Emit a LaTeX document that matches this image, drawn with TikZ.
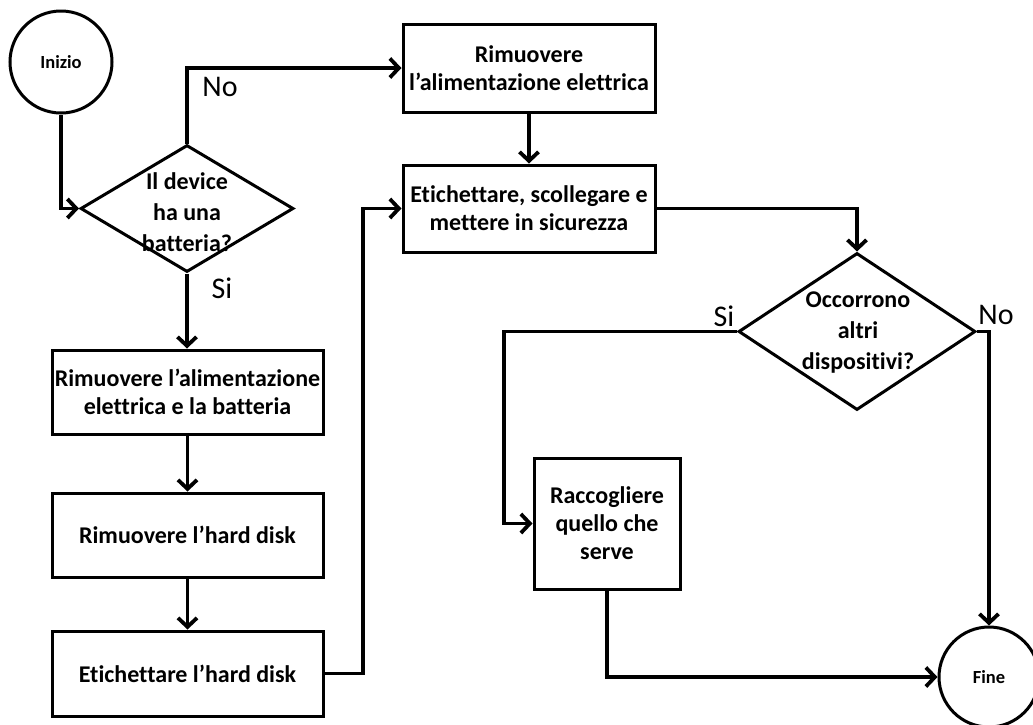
\documentclass[tikz,border=0pt]{standalone}
\usepackage{fontspec}
\setmainfont{Carlito}[Ligatures=NoCommon]
\usetikzlibrary{arrows.meta,shapes.geometric}
\begin{document}
\begin{tikzpicture}[x=1pt,y=-1pt,
  box/.style={draw, line width=3pt, inner sep=0pt, align=center, font=\bfseries\fontsize{24}{28}\selectfont},
  dia/.style={draw, line width=3pt, shape=diamond, inner sep=0pt},
  diatext/.style={inner sep=0pt, align=center, font=\bfseries\fontsize{24}{31}\selectfont},
  term/.style={draw, line width=3pt, circle, inner sep=0pt, font=\bfseries\fontsize{18.5}{20}\selectfont},
  lab/.style={inner sep=0pt, font=\fontsize{30}{32}\selectfont},
  arr/.style={line width=3.8pt, -{Straight Barb[length=9pt,width=19pt,line width=3.8pt]}},
  ln/.style={line width=3.8pt}]
\clip (0,0) rectangle (1033,724);
\fill[white] (0,0) rectangle (1033,724);

\node[term, minimum size=102pt] (inizio) at (61,62) {Inizio};
\node[dia, minimum width=213pt, minimum height=127pt] (d1) at (187,208.5) {};
\node[diatext] (d1t) at (187,212) {Il device\\ha una\\batteria?};

\node[box, minimum width=252pt, minimum height=88pt] (b1) at (529,68) {Rimuovere\\l’alimentazione elettrica};
\node[box, minimum width=252pt, minimum height=87pt] (b2) at (529,208.5) {Etichettare, scollegare e\\mettere in sicurezza};

\node[box, minimum width=271pt, minimum height=84pt] (bA) at (187.5,392) {Rimuovere l’alimentazione\\elettrica e la batteria};
\node[box, minimum width=271pt, minimum height=84pt] (bB) at (187.5,535) {Rimuovere l’hard disk};
\node[box, minimum width=271pt, minimum height=85pt] (bC) at (187.5,673.5) {Etichettare l’hard disk};

\node[dia, minimum width=237pt, minimum height=157pt] (d2) at (857,331.5) {};
\node[diatext] (d2t) at (858,333) {Occorrono\\altri\\dispositivi?};

\node[box, minimum width=146pt, minimum height=131pt] (b3) at (607,523.5) {Raccogliere\\quello che\\serve};
\node[term, minimum size=100pt] (fine) at (989,677) {Fine};

\node[lab] (no1) at (220,87) {No};
\node[lab] (si1) at (222,288) {Si};
\node[lab] (si2) at (724,316) {Si};
\node[lab] (no2) at (996,315) {No};

\coordinate (c1) at (363,673.5);
\coordinate (c2) at (504,523.5);

\draw[arr] (inizio.south) |- (d1.west);
\draw[arr] (d1.north) |- (b1.west);
\draw[arr] (d1.south) -- (d1.south |- bA.north);
\draw[arr] (b1.south) -- (b2.north);
\draw[arr] (bA.south) -- (bB.north);
\draw[arr] (bB.south) -- (bC.north);
\draw[arr] (bC.east) -- (c1) |- (b2.west);
\draw[arr] (b2.east) -| (d2.north);
\draw[arr] (d2.west) -| (c2) -- (b3.west);
\draw[arr] (d2.east) -| (fine.north);
\draw[arr] (b3.south) |- (fine.west);
\end{tikzpicture}
\end{document}
